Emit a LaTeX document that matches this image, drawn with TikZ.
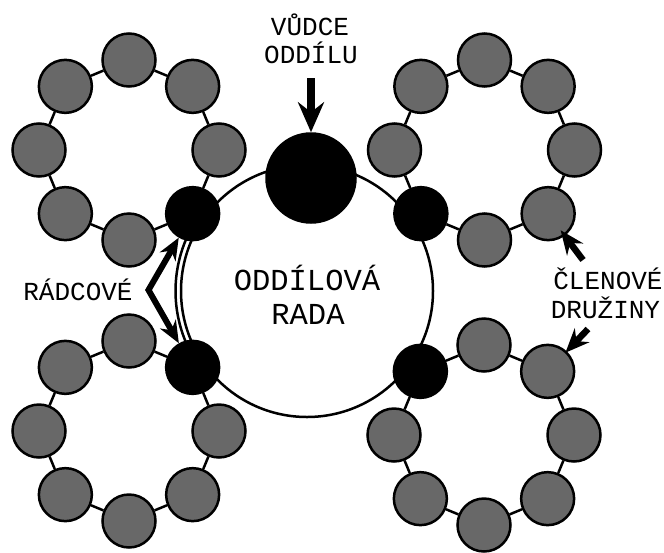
\documentclass[tikz,border=0pt]{standalone}
\usepackage{fontspec}
\setmainfont{Liberation Mono}
\usetikzlibrary{arrows.meta}
\definecolor{memgray}{RGB}{104,104,104}
\begin{document}
\begin{tikzpicture}[x=1pt,y=-1pt,
  member/.style={circle,draw=black,line width=2.5pt,fill=memgray,minimum size=53pt,inner sep=0pt},
  chief/.style={circle,draw=black,line width=2.5pt,fill=black,minimum size=53pt,inner sep=0pt},
  leader/.style={circle,draw=black,line width=2.5pt,fill=black,minimum size=89pt,inner sep=0pt},
  council/.style={circle,draw=black,line width=2.5pt,minimum size=252pt,inner sep=0pt},
  link/.style={line width=2.5pt},
  bigarrow/.style={line width=8pt,-{Stealth[length=30pt,width=26pt,inset=10pt]}},
  medarrow/.style={line width=6pt,line join=miter,{Stealth[length=22pt,width=18pt,inset=7pt]}-{Stealth[length=22pt,width=18pt,inset=7pt]}},
  smallarrow/.style={line width=6.5pt,-{Stealth[length=24pt,width=20pt,inset=8pt]}},
  lbl/.style={anchor=base,inner sep=0pt,font=\fontsize{26}{30}\selectfont},
  title/.style={anchor=base,inner sep=0pt,font=\fontsize{30.5}{34}\selectfont},
]
\fill[white] (0,0) rectangle (664,552);
\useasboundingbox (0,0) rectangle (664,552);
% council ring
\node[council] (ring) at (307,291) {};
\draw[link] (ring.center) ++(146:131.5) arc[start angle=146,end angle=214,radius=131.5];
% patrols
\foreach \p/\cx/\cy/\ch in {tl/129/150/1, tr/484.5/150/3, bl/129/431/7, br/484/435/5} {
  \foreach \k in {0,...,7} {
    \ifnum\k=\ch\relax \def\sty{chief}\else\def\sty{member}\fi
    \node[\sty] (\p\k) at ({\cx+90*cos(45*\k)},{\cy+90*sin(45*\k)}) {};
  }
  \foreach \k in {0,...,7} {
    \pgfmathtruncatemacro\nx{mod(\k+1,8)}
    \draw[link] (\p\k) -- (\p\nx);
  }
}
% troop leader
\node[leader] (vudce) at (311,178) {};
\node[lbl] (v1) at (310,35) {VŮDCE};
\node[lbl] (v2) at (311,63.3) {ODDÍLU};
\coordinate (vtail) at (311,78);
\draw[bigarrow] (vtail) -- (vudce);
% patrol leaders
\node[lbl] (rad) at (78,300) {RÁDCOVÉ};
\coordinate (rv) at (148.5,290);
\draw[medarrow] (tl1) -- (rv) -- (bl7);
% members
\node[lbl] (cl1) at (608,289.3) {ČLENOVÉ};
\node[lbl] (cl2) at (605.5,318.5) {DRUŽINY};
\coordinate (ct1) at (583,260);
\coordinate (ct2) at (588,329);
\draw[smallarrow,shorten >=-7pt] (ct1) -- (tr1);
\draw[smallarrow,shorten >=-2pt] (ct2) -- (br7);
% council label
\node[title] (o1) at (307,290.7) {ODDÍLOVÁ};
\node[title] (o2) at (308,324) {RADA};
\end{tikzpicture}
\end{document}
